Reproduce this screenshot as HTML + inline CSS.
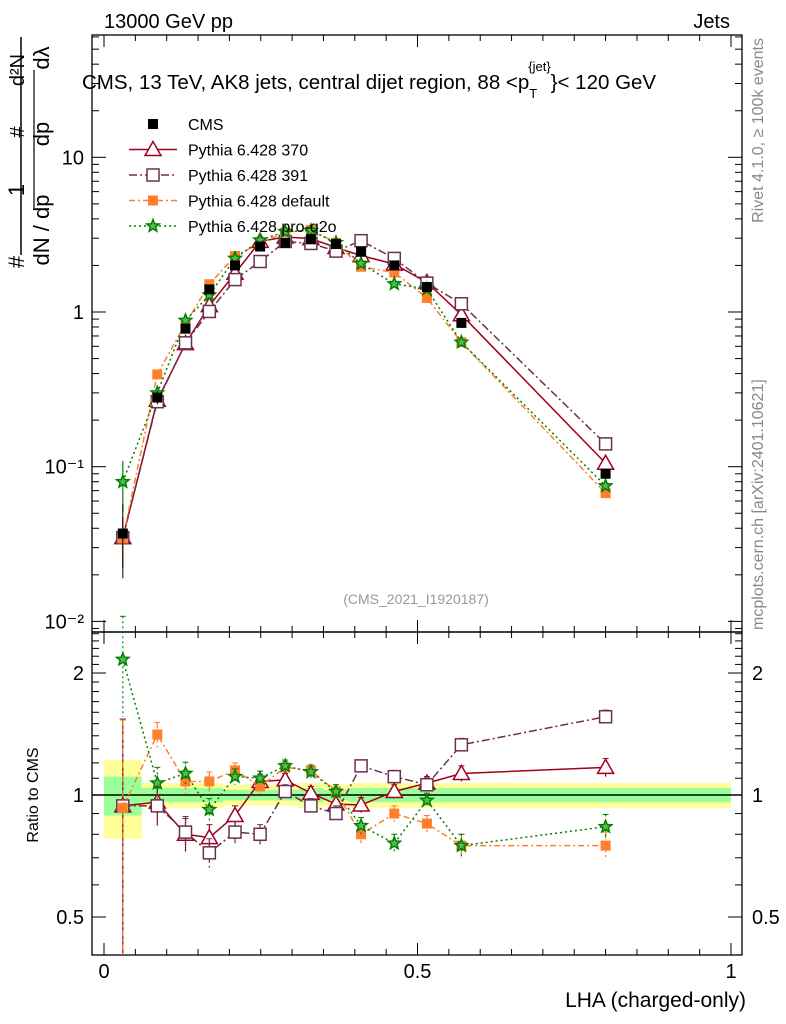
<!DOCTYPE html>
<html><head><meta charset="utf-8"><style>
body{margin:0;background:#fff;}
svg{display:block;font-family:"Liberation Sans",sans-serif;}
</style></head><body>
<svg id="c" width="786" height="1024" viewBox="0 0 786 1024"></svg>
<script>
const xcenters=[0.03,0.085,0.13,0.168,0.209,0.249,0.289,0.33,0.37,0.41,0.463,0.515,0.57,0.8];
const binEdges=[0,0.06,0.11,0.15,0.19,0.23,0.27,0.31,0.35,0.39,0.44,0.49,0.54,0.6,1.0];
const cms=[0.037,0.28,0.78,1.4,2.0,2.65,2.8,2.95,2.75,2.45,2.0,1.45,0.85,0.09];
const cmsErr=[0.02,0.03,0.05,0.07,0.09,0.1,0.1,0.1,0.1,0.1,0.08,0.06,0.05,0.006];
const bandYellow=[0.22,0.07,0.07,0.07,0.06,0.06,0.06,0.07,0.06,0.07,0.07,0.07,0.07,0.07];
const bandGreen=[0.11,0.04,0.04,0.04,0.03,0.03,0.03,0.04,0.03,0.04,0.04,0.04,0.04,0.04];
const r370=[0.94,0.96,0.80,0.785,0.89,1.08,1.09,1.01,0.95,0.945,1.02,1.07,1.13,1.17];
const r391=[0.94,0.94,0.81,0.72,0.81,0.80,1.02,0.94,0.90,1.18,1.11,1.06,1.33,1.56];
const rdef=[0.93,1.41,1.08,1.08,1.15,1.05,1.17,1.15,1.02,0.80,0.90,0.85,0.75,0.75];
const rpro=[2.16,1.07,1.13,0.92,1.11,1.10,1.18,1.14,1.02,0.84,0.76,0.97,0.75,0.835];
const rErr=[1.2,0.2,0.15,0.12,0.1,0.09,0.08,0.08,0.08,0.08,0.08,0.08,0.1,0.12];
const xTicks=[0,0.5,1];
const xTickLabels=["0","0.5","1"];
const yTicks=[0.01,0.1,1,10];
const yTickLabels=["10\u207B\u00B2","10\u207B\u00B9","1","10"];
const rTicks=[0.5,1,2];
const rTickLabels=["0.5","1","2"];

const NS="http://www.w3.org/2000/svg";
const svg=document.getElementById('c');
function el(t,a,p){const e=document.createElementNS(NS,t);for(const k in a)e.setAttribute(k,a[k]);(p||svg).appendChild(e);return e;}
const L=92,R=742,T1=35,B1=632,T2=632,B2=955;
const X=v=>104+v*627;
const Y=v=>312-Math.log10(v)*154.7;
const YR=v=>795-Math.log2(v)*122;

for(let i=0;i<cms.length;i++){
  const x0=X(binEdges[i]),x1=X(binEdges[i+1]);
  const b1=el('rect',{x:x0,y:YR(1+bandYellow[i]),width:x1-x0,height:YR(1-bandYellow[i])-YR(1+bandYellow[i]),fill:'#ffff99'});
  
  
  const b2=el('rect',{x:x0,y:YR(1+bandGreen[i]),width:x1-x0,height:YR(1-bandGreen[i])-YR(1+bandGreen[i]),fill:'#99ff99'});
  
  
}
el('line',{x1:L,x2:R,y1:YR(1),y2:YR(1),stroke:'#000','stroke-width':1.5});

const f1=el('rect',{x:L,y:T1,width:R-L,height:B1-T1,fill:'none',stroke:'#000','stroke-width':1.3});

const f2=el('rect',{x:L,y:T2,width:R-L,height:B2-T2,fill:'none',stroke:'#000','stroke-width':1.3});


for(let i=0;i<=20;i++){const v=i*0.05,x=X(v);const big=i%10==0;const s=big?12:6;
 el('line',{x1:x,x2:x,y1:B2,y2:B2-s,stroke:'#000'});el('line',{x1:x,x2:x,y1:T2,y2:T2+s,stroke:'#000'});
 el('line',{x1:x,x2:x,y1:B1,y2:B1-s,stroke:'#000'});el('line',{x1:x,x2:x,y1:T1,y2:T1+s,stroke:'#000'});}
xTicks.forEach((v,i)=>{const t=el('text',{x:X(v),y:978,'font-size':20,'text-anchor':'middle'});t.textContent=xTickLabels[i];
 });
for(let d=-3;d<=1;d++)for(let m=1;m<=9;m++){const v=m*Math.pow(10,d);const y=Y(v);if(y<T1||y>B1)continue;const s=m==1?14:7;
 el('line',{x1:L,x2:L+s,y1:y,y2:y,stroke:'#000'});el('line',{x1:R,x2:R-s,y1:y,y2:y,stroke:'#000'});}
yTicks.forEach((v,i)=>{const t=el('text',{x:84,y:Y(v)+7,'font-size':20,'text-anchor':'end'});t.textContent=yTickLabels[i];
 });
[0.4,0.5,0.6,0.7,0.8,0.9,1,1.1,1.2,1.3,1.4,1.5,1.6,1.7,1.8,1.9,2,2.1,2.2,2.3,2.4,2.5].forEach(v=>{const y=YR(v);if(y<T2||y>B2)return;const big=(v==0.5||v==1||v==2);const s=big?14:7;
 el('line',{x1:L,x2:L+s,y1:y,y2:y,stroke:'#000'});el('line',{x1:R,x2:R-s,y1:y,y2:y,stroke:'#000'});});
rTicks.forEach((v,i)=>{const t=el('text',{x:84,y:YR(v)+7,'font-size':20,'text-anchor':'end'});t.textContent=rTickLabels[i];
 
 const t2=el('text',{x:752,y:YR(v)+7,'font-size':20});t2.textContent=rTickLabels[i];
 });

const series=[
 {name:'370',r:r370,c:'#a0001e',dash:'',m:'tri'},
 {name:'391',r:r391,c:'#6b3050',dash:'8,3,2,3',m:'sq'},
 {name:'default',r:rdef,c:'#ff7f2a',dash:'6,3,2,3',m:'fsq'},
 {name:'pro-q2o',r:rpro,c:'#008000',dash:'2,3',m:'star'}];
function marker(m,x,y,c,g){
 if(m=='tri')el('polygon',{points:`${x},${y-8} ${x-8},${y+6} ${x+8},${y+6}`,fill:'#fff',stroke:c,'stroke-width':1.5},g);
 else if(m=='sq')el('rect',{x:x-6,y:y-6,width:12,height:12,fill:'#fff',stroke:c,'stroke-width':1.5},g);
 else if(m=='fsq')el('rect',{x:x-5,y:y-5,width:10,height:10,fill:c},g);
 else if(m=='star'){let p=[];for(let k=0;k<10;k++){const a=-Math.PI/2+k*Math.PI/5,rr=k%2?2.8:6.5;p.push((x+rr*Math.cos(a))+','+(y+rr*Math.sin(a)));}
  el('polygon',{points:p.join(' '),fill:'#5b5',stroke:c,'stroke-width':1.5},g);}
 else if(m=='cms')el('rect',{x:x-5,y:y-5,width:10,height:10,fill:'#000'},g);
}
series.forEach(s=>{
 const g=el('g',{});
 const vals=s.r.map((r,i)=>r*cms[i]);
 el('polyline',{points:vals.map((v,i)=>X(xcenters[i])+','+Y(v)).join(' '),fill:'none',stroke:s.c,'stroke-width':1.5,'stroke-dasharray':s.dash},g);
 el('polyline',{points:s.r.map((v,i)=>X(xcenters[i])+','+YR(v)).join(' '),fill:'none',stroke:s.c,'stroke-width':1.5,'stroke-dasharray':s.dash},g);
 vals.forEach((v,i)=>{const x=X(xcenters[i]);
  const e=Math.min(rErr[i]*0.3,0.6);
  el('line',{x1:x,x2:x,y1:Y(v*(1+e)),y2:Y(Math.max(v*(1-e),1e-4)),stroke:s.c,'stroke-width':1.2},g);
  const ry1=YR(s.r[i]+rErr[i]*0.5),ry2=Math.min(B2,YR(Math.max(s.r[i]-rErr[i]*0.5,0.3)));
  el('line',{x1:x,x2:x,y1:ry1,y2:ry2,stroke:s.c,'stroke-width':1.2,'stroke-dasharray':s.dash},g);
  el('line',{x1:x-3,x2:x+3,y1:ry1,y2:ry1,stroke:s.c},g);
  marker(s.m,x,Y(v),s.c,g);marker(s.m,x,YR(s.r[i]),s.c,g);});
});
const gc=el('g',{});
cms.forEach((v,i)=>{const x=X(xcenters[i]);el('line',{x1:x,x2:x,y1:Y(v+cmsErr[i]),y2:Y(v-cmsErr[i]*0.9),stroke:'#000'},gc);marker('cms',x,Y(v),'#000',gc);});

const leg=[['CMS','#000','','cms'],['Pythia 6.428 370','#a0001e','','tri'],['Pythia 6.428 391','#6b3050','8,3,2,3','sq'],['Pythia 6.428 default','#ff7f2a','6,3,2,3','fsq'],['Pythia 6.428 pro-q2o','#008000','2,3','star']];
leg.forEach((l,i)=>{const y=124+i*25.5;const g=el('g',{});
 if(i>0)el('line',{x1:129,x2:177,y1:y,y2:y,stroke:l[1],'stroke-width':1.5,'stroke-dasharray':l[2]},g);
 marker(l[3],153,y,l[1],g);
 const t=el('text',{x:188,y:y+6,'font-size':16},g);t.textContent=l[0];});

function txt(s,a,name){const t=el('text',a);t.textContent=s;return t;}
txt('13000 GeV pp',{x:104,y:28,'font-size':20},'energy-label');
txt('Jets',{x:730,y:28,'font-size':20,'text-anchor':'end'},'process-label');
const title=el('text',{x:82,y:89,'font-size':20.5});

title.innerHTML='CMS, 13 TeV, AK8 jets, central dijet region, 88 &lt;p<tspan font-size="13" dy="9">T</tspan><tspan font-size="13" dx="-9" dy="-27">{jet}</tspan><tspan dy="18">}&lt; 120 GeV</tspan>';
txt('(CMS_2021_I1920187)',{x:416,y:604,'font-size':14,fill:'#999','text-anchor':'middle'},'analysis-id');
txt('LHA (charged-only)',{x:746,y:1007,'font-size':21,'text-anchor':'end'},'x-axis-title');
txt('Ratio to CMS',{x:0,y:0,'font-size':16,transform:'translate(38,795) rotate(-90)','text-anchor':'middle'},'ratio-axis-title');
txt('Rivet 4.1.0, \u2265 100k events',{x:0,y:0,'font-size':16,fill:'#888',transform:'translate(763,38) rotate(-90)','text-anchor':'end'},'rivet-label');
txt('mcplots.cern.ch [arXiv:2401.10621]',{x:0,y:0,'font-size':16,fill:'#888',transform:'translate(763,630) rotate(-90)','text-anchor':'start'},'mcplots-label');
const gy=el('g',{});
el('line',{x1:21,x2:21,y1:37,y2:255,stroke:'#000','stroke-width':1.5},gy);
[['#',24,262,22],['1',24,190,22],['dN / dp',49,230,22],['#',24,132,20],['d\u00B2N',24,70,20],['dp',49,134,22],['d\u03BB',49,58,22]].forEach(a=>{
 const t=el('text',{x:0,y:0,'font-size':a[3],'text-anchor':'middle',transform:`translate(${a[1]},${a[2]}) rotate(-90)`},gy);t.textContent=a[0];});
el('line',{x1:34,x2:34,y1:70,y2:208,stroke:'#000','stroke-width':1.2},gy);
</script>
</body></html>
